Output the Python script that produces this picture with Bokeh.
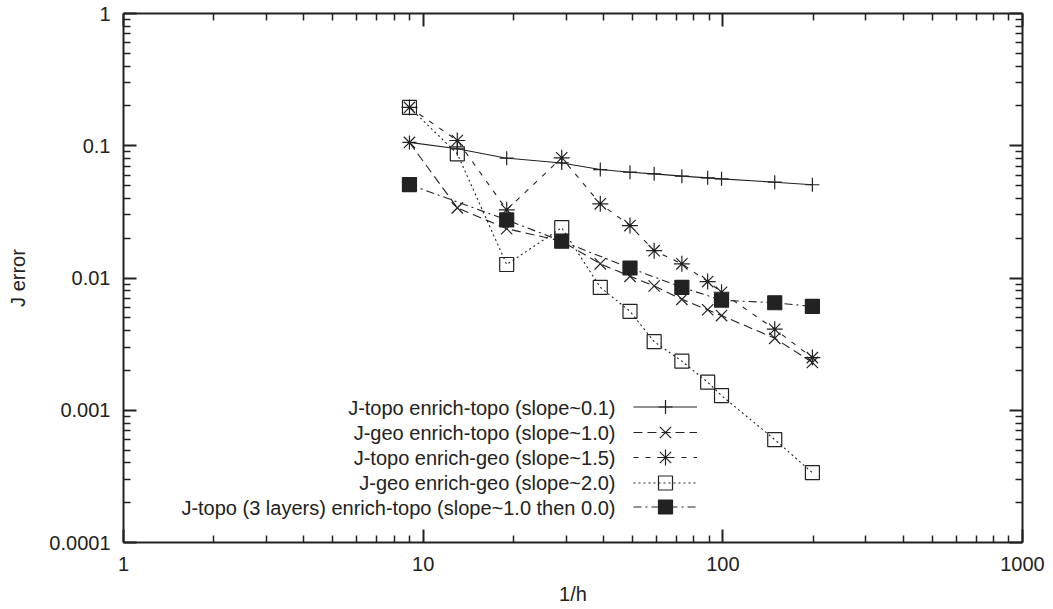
from bokeh.plotting import figure
from bokeh.models import (LogAxis, FixedTicker, Legend, LegendItem, Label,
                          CustomJSTickFormatter)
from bokeh.embed import file_html
from bokeh.resources import INLINE

# ---- data ----
inv_h = [9, 13, 19, 29, 39, 49, 59, 73, 89, 99, 149, 199]
topo_topo = [0.106, 0.0948, 0.0805, 0.0741, 0.0661, 0.0631, 0.0613, 0.0589, 0.0572, 0.0562, 0.0530, 0.0507]
geo_topo = [0.106, 0.0339, 0.0236, 0.0190, 0.0128, 0.0103, 0.0087, 0.0069, 0.00575, 0.0052, 0.0035, 0.0023]
topo_geo = [0.195, 0.1096, 0.0328, 0.0811, 0.0364, 0.0249, 0.0161, 0.0128, 0.0094, 0.0078, 0.0041, 0.0025]
geo_geo = [0.195, 0.0869, 0.01265, 0.0240, 0.0085, 0.0056, 0.0033, 0.00235, 0.00163, 0.00129, 0.00060, 0.000337]
inv_h_3l = [9, 19, 29, 49, 73, 99, 149, 199]
topo3_topo = [0.0509, 0.0275, 0.0190, 0.0119, 0.0085, 0.0068, 0.0065, 0.0061]

labels = [
    "J-topo enrich-topo (slope~0.1)",
    "J-geo enrich-topo (slope~1.0)",
    "J-topo enrich-geo (slope~1.5)",
    "J-geo enrich-geo (slope~2.0)",
    "J-topo (3 layers) enrich-topo (slope~1.0 then 0.0)",
]
x_major = [1, 10, 100, 1000]
y_major = [0.0001, 0.001, 0.01, 0.1, 1]

FONT = "Liberation Sans"
FS = "20px"
INK = "#222222"

p = figure(width=1053, height=609, x_axis_type="log", y_axis_type="log",
           x_range=(1, 1000), y_range=(0.0001, 1),
           output_backend="svg", toolbar_location=None,
           min_border_left=123, min_border_right=31, min_border_top=13,
           min_border_bottom=67)
p.grid.visible = False
p.outline_line_color = None
p.background_fill_color = "white"

x_minor = [d * m for d in x_major[:-1] for m in range(2, 10)]
y_minor = [d * m for d in y_major[:-1] for m in range(2, 10)]
fmt = CustomJSTickFormatter(code="return tick.toString();")


def style_axis(ax, show_labels):
    ax.axis_line_color = INK
    ax.axis_line_width = 2
    ax.major_tick_line_color = INK
    ax.major_tick_line_width = 2
    ax.minor_tick_line_color = INK
    ax.minor_tick_line_width = 1.5
    ax.major_tick_in = 13
    ax.major_tick_out = 0
    ax.minor_tick_in = 7
    ax.minor_tick_out = 0
    ax.formatter = fmt
    if show_labels:
        ax.major_label_text_font = FONT
        ax.major_label_text_font_size = FS
        ax.major_label_text_color = INK
        ax.axis_label_text_font = FONT
        ax.axis_label_text_font_size = FS
        ax.axis_label_text_font_style = "normal"
        ax.axis_label_text_color = INK
    else:
        ax.major_label_text_font_size = "1px"
        ax.major_label_text_color = None
        ax.major_label_text_alpha = 0
        ax.major_label_standoff = 0


xb = p.xaxis[0]
xb.ticker = FixedTicker(ticks=x_major, minor_ticks=x_minor)
style_axis(xb, True)
xb.axis_label = "1/h"
xb.major_label_standoff = 14
xb.axis_label_standoff = 9

yl = p.yaxis[0]
yl.ticker = FixedTicker(ticks=y_major, minor_ticks=y_minor)
style_axis(yl, True)
yl.axis_label = "J error"
yl.major_label_standoff = 13
yl.axis_label_standoff = 17

xt = LogAxis(ticker=FixedTicker(ticks=x_major, minor_ticks=x_minor))
style_axis(xt, False)
p.add_layout(xt, "above")
yr = LogAxis(ticker=FixedTicker(ticks=y_major, minor_ticks=y_minor))
style_axis(yr, False)
p.add_layout(yr, "right")

# (x, y, dash, marker, fill, marker size)
series = [
    (inv_h, topo_topo, "solid", "cross", None, 14),
    (inv_h, geo_topo, "9 5", "x", None, 16),
    (inv_h, topo_geo, "5 7", "asterisk", None, 16),
    (inv_h, geo_geo, "2 3", "square", None, 14),
    (inv_h_3l, topo3_topo, "8 4 2 4", "square", INK, 14),
]

for i, ((xs, ys, dash, marker, fill, msize), lab) in enumerate(zip(series, labels)):
    ln = p.line(xs, ys, line_color=INK, line_width=1.1, line_dash=dash)
    sc = p.scatter(xs, ys, marker=marker, size=msize, line_color=INK,
                   line_width=1.2, fill_color=fill)
    # legend sample (glyph only) for this row, text drawn as a Label to its left
    row_center = 135 - 25 * i
    gh = msize / 0.4
    lg = Legend(items=[LegendItem(label="", renderers=[ln, sc])],
                location=(510, round(row_center - gh / 2)), glyph_width=64,
                glyph_height=round(gh),
                padding=0, margin=0, label_standoff=0, label_width=0,
                label_height=0, label_text_font_size="1px",
                label_text_color=None, label_text_alpha=0,
                background_fill_alpha=0, border_line_color=None)
    p.add_layout(lg)
    p.add_layout(Label(x=492, y=row_center, x_units="screen", y_units="screen",
                       text=lab, text_align="right", text_baseline="middle",
                       text_font=FONT, text_font_size=FS, text_color=INK))

open("out.html", "w").write(file_html(p, INLINE))
